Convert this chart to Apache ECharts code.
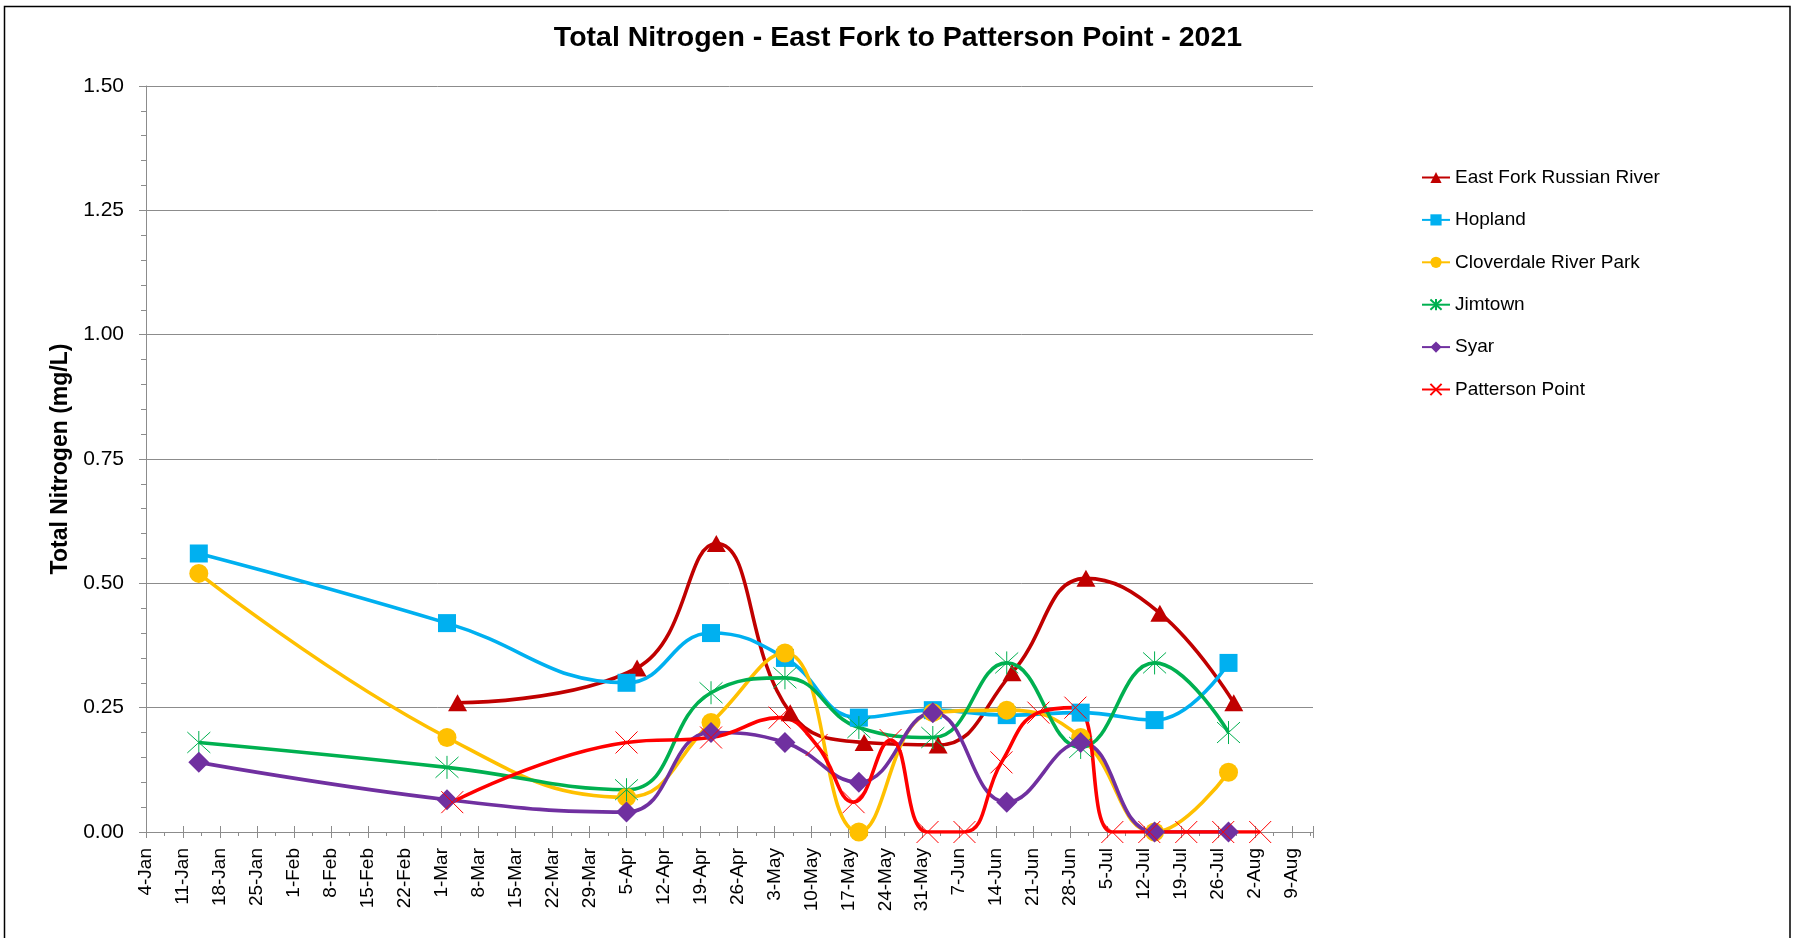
<!DOCTYPE html>
<html>
<head>
<meta charset="utf-8">
<title>Total Nitrogen - East Fork to Patterson Point - 2021</title>
<script src="https://cdn.jsdelivr.net/npm/echarts@6/dist/echarts.min.js"></script>
<style>
  html, body { margin: 0; padding: 0; background: #fff; }
  #chart { width: 1796px; height: 938px; }
</style>
</head>
<body>
<div id="chart"></div>
<script>
// Sampling dates and total nitrogen results (mg/L), 2021
const sampleDates = ['2021-01-14', '2021-03-02', '2021-04-05', '2021-04-21', '2021-05-05', '2021-05-19',
                     '2021-06-02', '2021-06-16', '2021-06-30', '2021-07-14', '2021-07-28'];
const eastForkDates = ['2021-03-04', '2021-04-07', '2021-04-22', '2021-05-06', '2021-05-20',
                       '2021-06-03', '2021-06-17', '2021-07-01', '2021-07-15', '2021-07-29'];
const pattersonDates = ['2021-03-03', '2021-04-05', '2021-04-21', '2021-05-04', '2021-05-11', '2021-05-18',
                        '2021-05-25', '2021-06-01', '2021-06-08', '2021-06-15', '2021-06-22', '2021-06-29',
                        '2021-07-06', '2021-07-13', '2021-07-20', '2021-07-27', '2021-08-03'];

const eastFork   = [0.26, 0.33, 0.58, 0.24, 0.18, 0.175, 0.32, 0.51, 0.44, 0.26];
const hopland    = [0.56, 0.42, 0.30, 0.40, 0.35, 0.23, 0.245, 0.235, 0.24, 0.225, 0.34];
const cloverdale = [0.52, 0.19, 0.07, 0.22, 0.36, 0.00, 0.24, 0.245, 0.19, 0.00, 0.12];
const jimtown    = [0.18, 0.13, 0.085, 0.28, 0.31, 0.21, 0.19, 0.34, 0.17, 0.34, 0.20];
const syar       = [0.14, 0.065, 0.04, 0.20, 0.18, 0.10, 0.24, 0.06, 0.18, 0.00, 0.00];
const patterson  = [0.06, 0.18, 0.19, 0.23, 0.175, 0.06, 0.185, 0.00, 0.00, 0.14, 0.24, 0.25,
                    0.00, 0.00, 0.00, 0.00, 0.00];

const siteNames = ['East Fork Russian River', 'Hopland', 'Cloverdale River Park', 'Jimtown', 'Syar', 'Patterson Point'];
const monthNames = ['Jan', 'Feb', 'Mar', 'Apr', 'May', 'Jun', 'Jul', 'Aug', 'Sep', 'Oct', 'Nov', 'Dec'];

// The date axis is counted in days from 4-Jan-2021, with weekly ticks
const DAY = 86400000;
const AXIS_START = Date.UTC(2021, 0, 4);
const AXIS_DAYS = 221;   // 4-Jan .. 13-Aug

function dayOf(iso) {
  const [y, m, d] = iso.split('-').map(Number);
  return Math.round((Date.UTC(y, m - 1, d) - AXIS_START) / DAY);
}
function pairs(dates, values) {
  return dates.map((d, i) => [dayOf(d), values[i]]);
}
function dayLabel(v) {
  if (Math.round(v) % 7 !== 0) return '';
  const dt = new Date(AXIS_START + Math.round(v) * DAY);
  return dt.getUTCDate() + '-' + monthNames[dt.getUTCMonth()];
}

// Thin stroked markers: an "x" and an asterisk
const xMark = 'path://M0,0L20,20M20,0L0,20';
const starMark = 'path://M0,0L20,20M20,0L0,20M10,-1L10,21';

function lineSeries(name, data, color, symbol, size, thin) {
  return {
    name: name,
    type: 'line',
    data: data,
    smooth: 0.45,
    symbol: symbol,
    symbolSize: size,
    showAllSymbol: true,
    lineStyle: { color: color, width: 3.6 },
    itemStyle: thin
      ? { color: color, borderColor: color, borderWidth: 1 }
      : { color: color, borderWidth: 0 },
    emphasis: { disabled: true },
    animation: false
  };
}

const gray = '#8c8c8c';
const font = '"Liberation Sans", Arial, sans-serif';

const chart = echarts.init(document.getElementById('chart'), null, { renderer: 'canvas' });
chart.setOption({
  backgroundColor: '#ffffff',
  animation: false,
  title: {
    text: 'Total Nitrogen - East Fork to Patterson Point - 2021',
    left: 'center',
    top: 19,
    textStyle: { fontFamily: font, fontSize: 28.5, fontWeight: 'bold', color: '#000' }
  },
  graphic: [{
    type: 'rect',
    shape: { x: 4.5, y: 6.5, width: 1785.5, height: 1000 },
    style: { fill: 'none', stroke: '#000', lineWidth: 1.5 },
    silent: true,
    z: 100
  }],
  legend: {
    orient: 'vertical',
    left: 1416,
    top: 162.5,
    itemWidth: 28,
    itemHeight: 14,
    itemGap: 22.4,
    textStyle: { fontFamily: font, fontSize: 19, color: '#000', lineHeight: 20 },
    data: siteNames
  },
  grid: { left: 146, right: 483, top: 86, bottom: 106, containLabel: false },
  xAxis: [{
    type: 'value',
    min: 0,
    max: AXIS_DAYS,
    interval: 7,
    position: 'bottom',
    axisLine: { show: true, lineStyle: { color: gray, width: 1 } },
    axisTick: { show: true, inside: false, length: 6, lineStyle: { color: gray } },
    minorTick: { show: true, splitNumber: 2, length: 4, lineStyle: { color: gray } },
    splitLine: { show: false },
    axisLabel: {
      rotate: 90,
      margin: 16,
      fontFamily: font,
      fontSize: 19,
      color: '#000',
      formatter: dayLabel,
      showMaxLabel: false
    }
  }, {
    type: 'value',
    min: 0,
    max: AXIS_DAYS,
    interval: 7,
    position: 'bottom',
    axisLine: { show: false },
    axisTick: { show: true, inside: true, length: 6, lineStyle: { color: gray } },
    axisLabel: { show: false },
    splitLine: { show: false }
  }],
  yAxis: {
    type: 'value',
    min: 0,
    max: 1.5,
    interval: 0.25,
    name: 'Total Nitrogen (mg/L)',
    nameLocation: 'middle',
    nameGap: 73,
    nameTextStyle: { fontFamily: font, fontSize: 23, fontWeight: 'bold', color: '#000' },
    axisLine: { show: true, lineStyle: { color: gray, width: 1 } },
    axisTick: { show: true, inside: false, length: 7, lineStyle: { color: gray } },
    minorTick: { show: true, splitNumber: 5, length: 5, lineStyle: { color: gray } },
    splitLine: { show: true, lineStyle: { color: gray, width: 1 } },
    axisLabel: {
      margin: 22,
      fontFamily: font,
      fontSize: 21,
      color: '#000',
      formatter: v => v.toFixed(2)
    }
  },
  series: [
    lineSeries(siteNames[0], pairs(eastForkDates, eastFork), '#C00000', 'triangle', [19, 17], false),
    lineSeries(siteNames[1], pairs(sampleDates, hopland), '#00B0F0', 'rect', 18, false),
    lineSeries(siteNames[2], pairs(sampleDates, cloverdale), '#FFC000', 'circle', 19, false),
    lineSeries(siteNames[3], pairs(sampleDates, jimtown), '#00B050', starMark, 23, true),
    lineSeries(siteNames[4], pairs(sampleDates, syar), '#7030A0', 'diamond', [21, 21], false),
    lineSeries(siteNames[5], pairs(pattersonDates, patterson), '#FF0000', xMark, 22, true)
  ]
});
</script>
</body>
</html>
